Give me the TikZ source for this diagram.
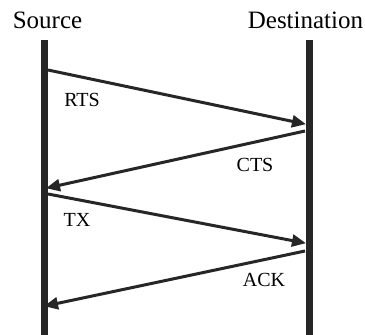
\documentclass[tikz,border=0pt]{standalone}
\usepackage{fontspec}
\setmainfont{Liberation Serif}
\usetikzlibrary{arrows.meta}
\begin{document}
\begin{tikzpicture}[x=1pt,y=-1pt,
  lifeline/.style={line width=7pt,draw=black!85},
  msg/.style={line width=3pt,draw=black!85,-{Triangle[length=14pt,width=12pt]},shorten >=-1pt},
  head/.style={font=\fontsize{25}{25}\selectfont,inner sep=0pt},
  lbl/.style={font=\fontsize{20}{20}\selectfont,inner sep=0pt}]
\useasboundingbox (0,0) rectangle (365,335);
% participants
\node[head] (src) at (47.5,20) {Source};
\node[head] (dst) at (305.5,20) {Destination};
% lifelines
\coordinate (s0) at (44.5,40);  \coordinate (s1) at (44.5,336);
\coordinate (d0) at (309,40);   \coordinate (d1) at (309,336);
\draw[lifeline] (s0) -- (s1);
\draw[lifeline] (d0) -- (d1);
% message endpoints
\coordinate (a0) at (48,70);   \coordinate (a1) at (305,124);
\coordinate (b0) at (305,131); \coordinate (b1) at (47,188);
\coordinate (c0) at (48,194);  \coordinate (c1) at (305,243);
\coordinate (e0) at (305,251); \coordinate (e1) at (45,306);
\draw[msg] (a0) -- (a1);
\draw[msg] (b0) -- (b1);
\draw[msg] (c0) -- (c1);
\draw[msg] (e0) -- (e1);
% labels
\node[lbl] (rts) at (82,100) {RTS};
\node[lbl] (cts) at (255,165) {CTS};
\node[lbl] (tx)  at (77,220) {TX};
\node[lbl] (ack) at (264,280) {ACK};
\end{tikzpicture}
\end{document}
